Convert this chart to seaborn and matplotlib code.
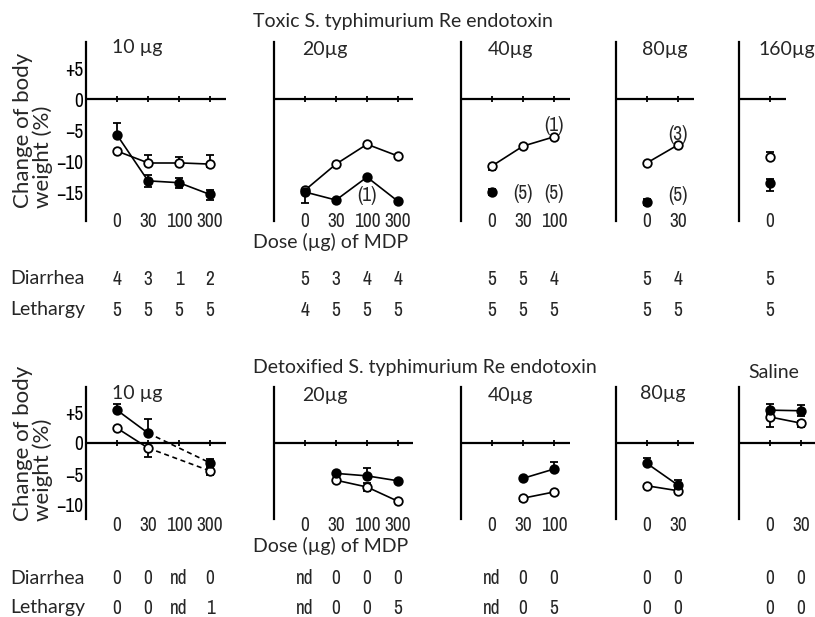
import numpy as np
import pandas as pd
import seaborn as sns
import matplotlib.pyplot as plt
from matplotlib import font_manager

nan = np.nan

# ---------------- values ----------------
toxic_titles = ["10 µg", "20µg", "40µg", "80µg", "160µg"]
detox_titles = ["10 µg", "20µg", "40µg", "80µg", "Saline"]

toxic_doses = [["0", "30", "100", "300"], ["0", "30", "100", "300"], ["0", "30", "100"], ["0", "30"], ["0"]]
detox_doses = [["0", "30", "100", "300"], ["0", "30", "100", "300"], ["0", "30", "100"], ["0", "30"], ["0", "30"]]

# change of body weight (%), filled and open circles
toxic_filled = [[-5.8, -13.2, -13.5, -15.4], [-15.0, -16.3, -12.6, -16.5], [-15.0, nan, nan], [-16.6, nan], [-13.5]]
toxic_open = [[-8.4, -10.3, -10.3, -10.5], [-14.7, -10.5, -7.3, -9.2], [-10.8, -7.6, -6.1], [-10.3, -7.4], [-9.3]]
detox_filled = [[5.3, 1.6, nan, -3.2], [nan, -4.9, -5.3, -6.1], [nan, -5.7, -4.2], [-3.3, -6.8], [5.3, 5.2]]
detox_open = [[2.4, -0.8, nan, -4.5], [nan, -6.0, -7.1, -9.4], [nan, -8.9, -7.9], [-6.9, -7.7], [4.2, 3.2]]

# error bars (below, above)
toxic_filled_err = [[(0, 1.9), (1.0, 1.0), (0.8, 0.8), (0.9, 0.8)], [(1.7, 0.3), (0, 0), (0, 0), (0, 0)],
                    [(0.5, 0.5), (0, 0), (0, 0)], [(0.5, 0.5), (0, 0)], [(1.3, 0.6)]]
toxic_open_err = [[(0, 0), (0, 1.3), (0, 0.9), (0.4, 1.4)], [(0, 0), (0, 0), (0, 0), (0, 0)],
                  [(0.6, 0), (0, 0), (0, 0)], [(0, 0), (0, 0)], [(0, 0.8)]]
detox_filled_err = [[(0, 1.0), (0, 2.3), (0, 0), (0.7, 0.6)], [(0, 0), (0.3, 0.3), (0.3, 1.3), (0, 0)],
                    [(0, 0), (0, 0), (0.3, 1.1)], [(0.3, 0.9), (0.6, 0.8)], [(1.0, 1.0), (0.9, 0.9)]]
detox_open_err = [[(0, 0), (1.5, 0), (0, 0), (0.7, 0.5)], [(0, 0), (0, 0), (0.6, 0.6), (0, 0)],
                  [(0, 0), (0.5, 0), (0, 0)], [(0, 0), (0, 0)], [(1.6, 0.5), (0.6, 0.4)]]

# number of animals with symptoms
toxic_diarrhea = [["4", "3", "1", "2"], ["5", "3", "4", "4"], ["5", "5", "4"], ["5", "4"], ["5"]]
toxic_lethargy = [["5", "5", "5", "5"], ["4", "5", "5", "5"], ["5", "5", "5"], ["5", "5"], ["5"]]
detox_diarrhea = [["0", "0", "nd", "0"], ["nd", "0", "0", "0"], ["nd", "0", "0"], ["0", "0"], ["0", "0"]]
detox_lethargy = [["0", "0", "nd", "1"], ["nd", "0", "0", "5"], ["nd", "0", "5"], ["0", "0"], ["0", "0"]]

# (panel, dose position, value, text)
toxic_notes = [(1, 3, -15.5, "(1)"), (2, 2, -15.3, "(5)"), (2, 3, -15.3, "(5)"),
               (2, 3, -4.3, "(1)"), (3, 2, -5.8, "(3)"), (3, 2, -15.5, "(5)")]

# ---------------- styling ----------------
sns.set_style("white")
names = {f.name for f in font_manager.fontManager.ttflist}
word_font = "Lato" if "Lato" in names else "DejaVu Sans"
plt.rcParams["font.family"] = [word_font, "DejaVu Sans"]


def pick_narrow():
    # a condensed sans face for the digits, the original uses a narrow DIN-like type
    found = []
    for f in font_manager.fontManager.ttflist:
        tag = (f.name + " " + str(f.stretch) + " " + f.fname).lower()
        if f.style != "normal" or f.weight not in (400, "normal", "regular", "book"):
            continue
        if "mono" in tag or "serif" in tag.replace("sans-serif", ""):
            continue
        if "narrow" in tag or "condensed" in tag:
            found.append(f)
    found.sort(key=lambda f: (0 if "narrow" in f.name.lower() else 1,
                              0 if "semi" not in (f.fname + str(f.stretch)).lower() else 1, f.name))
    return found[0] if found else None


narrow = pick_narrow()
if narrow is not None:
    num_prop = font_manager.FontProperties(fname=narrow.fname, size=14)
else:
    num_prop = font_manager.FontProperties(family=word_font, size=11.5)

W, H = 815, 617
fig = plt.figure(figsize=(W / 100, H / 100), dpi=100)


def fx(x):
    return x / W


def fy(y):
    return 1 - y / H


col_left = [86, 274, 461, 616, 739]
step = 31      # px between doses
scale = 6.2    # px per % unit

rows = [
    dict(top=42, bottom=221, zero=99, yt=[5, 0, -5, -10, -15], pad=-6.5,
         titles=toxic_titles, title_x=[137, 325, 510, 665, 787], title_y=[48, 50, 50, 50, 50],
         doses=toxic_doses, filled=toxic_filled, opn=toxic_open, ferr=toxic_filled_err,
         oerr=toxic_open_err, diar=toxic_diarrhea, leth=toxic_lethargy, table_y=(279, 310),
         head="Toxic S. typhimurium Re endotoxin", head_y=22, dose_y=242, ylab_y=208),
    dict(top=387, bottom=519, zero=443, yt=[5, 0, -5, -10], pad=-2.5,
         titles=detox_titles, title_x=[137, 325, 510, 663, 774], title_y=[393, 395, 395, 393, 372],
         doses=detox_doses, filled=detox_filled, opn=detox_open, ferr=detox_filled_err,
         oerr=detox_open_err, diar=detox_diarrhea, leth=detox_lethargy, table_y=(578, 608),
         head="Detoxified S. typhimurium Re endotoxin", head_y=368, dose_y=546, ylab_y=521),
]


def draw_series(ax, values, errs, filled):
    pos = np.arange(1, len(values) + 1)
    vals = np.array(values, dtype=float)
    ok = np.flatnonzero(~np.isnan(vals))
    for a, b in zip(ok[:-1], ok[1:]):
        seg = pd.DataFrame({"x": pos[[a, b]], "y": vals[[a, b]]})
        sns.lineplot(data=seg, x="x", y="y", ax=ax, color="black", lw=1.2,
                     linestyle="-" if b - a == 1 else (0, (3, 2.2)), zorder=2)
    lo = np.array([e[0] for e in errs])
    hi = np.array([e[1] for e in errs])
    has = [i for i in ok if lo[i] + hi[i] > 0]
    if has:
        ax.errorbar(pos[has], vals[has], yerr=[lo[has], hi[has]], fmt="none", ecolor="black",
                    elinewidth=1.3, capsize=2.6, capthick=1.3, zorder=3)
    sns.scatterplot(x=pos[ok], y=vals[ok], ax=ax, s=38, color="black" if filled else "white",
                    edgecolor="black", linewidth=1.3, zorder=4)


for r in rows:
    h = r["bottom"] - r["top"]
    for c, x0 in enumerate(col_left):
        doses = r["doses"][c]
        n = len(doses)
        width = (n + 0.5) * step
        ax = fig.add_axes([fx(x0), fy(r["bottom"]), width / W, h / H])
        ax.set_xlim(0, n + 0.5)
        ax.set_ylim(-(r["bottom"] - r["zero"]) / scale, (r["zero"] - r["top"]) / scale)
        ax.patch.set_alpha(0)
        for s in ["top", "right", "bottom"]:
            ax.spines[s].set_visible(False)
        ax.spines["left"].set_linewidth(1.6)
        ax.spines["left"].set_color("black")

        pos = np.arange(1, n + 1)
        ax.axhline(0, color="black", lw=1.6, zorder=1)
        ax.plot(pos, np.zeros(n), "|", color="black", ms=5, mew=1.3, zorder=1)

        draw_series(ax, r["opn"][c], r["oerr"][c], False)
        draw_series(ax, r["filled"][c], r["ferr"][c], True)

        ax.set_xticks(pos, doses, fontproperties=num_prop)
        ax.tick_params(axis="x", length=0, pad=r["pad"])
        ylabels = [("+%d" % v if v > 0 else "\u2212%d" % -v if v < 0 else "0") for v in r["yt"]]
        ax.set_yticks(r["yt"], ylabels if c == 0 else [""] * len(r["yt"]), fontproperties=num_prop)
        ax.tick_params(axis="y", direction="in", length=4, width=1.3, pad=2, colors="black")
        ax.set_xlabel("")
        ax.set_ylabel("")

        # symptom counts under each dose
        for lab_vals, ty in zip((r["diar"][c], r["leth"][c]), r["table_y"]):
            for p, v in zip(pos, lab_vals):
                ax.text(p, (r["bottom"] - ty) / h, v, transform=ax.get_xaxis_transform(),
                        ha="center", va="center", fontproperties=num_prop, clip_on=False)

        fig.text(fx(r["title_x"][c]), fy(r["title_y"][c]), r["titles"][c], ha="center",
                 va="center", fontsize=14)

    fig.text(fx(253), fy(r["head_y"]), r["head"], ha="left", va="center", fontsize=14)
    fig.text(fx(253), fy(r["dose_y"]), "Dose (µg) of MDP", ha="left", va="center", fontsize=14)
    fig.text(fx(10), fy(r["table_y"][0]), "Diarrhea", ha="left", va="center", fontsize=14)
    fig.text(fx(10), fy(r["table_y"][1]), "Lethargy", ha="left", va="center", fontsize=14)
    fig.text(fx(33), fy(r["ylab_y"]), "Change of body\nweight (%)", rotation=90, ha="center",
             va="bottom", multialignment="left", fontsize=16, linespacing=1.0)

# notes on the toxic row
toxic_axes = fig.axes[:5]
for c, p, v, t in toxic_notes:
    toxic_axes[c].text(p, v, t, ha="center", va="center", fontproperties=num_prop)

fig.savefig("out.png", dpi=100)
